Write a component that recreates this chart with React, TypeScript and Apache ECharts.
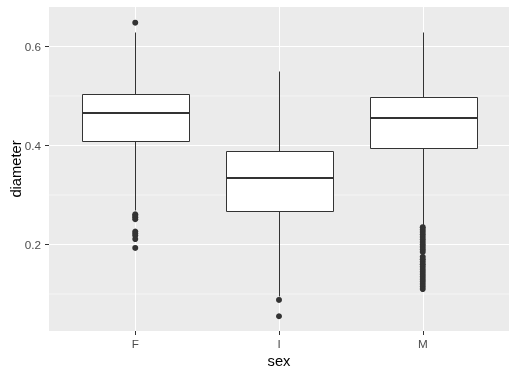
import React, { useEffect, useRef } from "react";
import * as echarts from "echarts";

const categories = ["F", "I", "M"];
const boxMin = [0.269, 0.095, 0.238];
const boxQ1 = [0.409, 0.268, 0.394];
const boxMedian = [0.465, 0.334, 0.455];
const boxQ3 = [0.504, 0.389, 0.498];
const boxMax = [0.63, 0.55, 0.63];
const outliersF = [0.648, 0.261, 0.258, 0.255, 0.251, 0.226, 0.222, 0.218, 0.211, 0.193];
const outliersI = [0.088, 0.055];
const outliersM = [
  0.235, 0.23, 0.225, 0.22, 0.215, 0.21, 0.205, 0.2, 0.195, 0.19, 0.185,
  0.175, 0.17, 0.165, 0.16, 0.155, 0.15, 0.145, 0.14, 0.135, 0.13,
  0.125, 0.12, 0.115, 0.11,
];
const yMajorTicks = [0.2, 0.4, 0.6];
const yMinorTicks = [0.1, 0.3, 0.5];
const yMin = 0.02525;
const yMax = 0.67975;

export default function App() {
  const ref = useRef<HTMLDivElement>(null);
  useEffect(() => {
    document.body.style.margin = "0";
    const chart = echarts.init(ref.current!, null, { renderer: "svg" });
    const gridData: any[] = [
      ...yMinorTicks.map((v) => ["h", v, 0.5]),
      ...yMajorTicks.map((v) => ["h", v, 1]),
      ...categories.map((_, i) => ["v", i + 1, 1]),
    ];
    const boxData = categories.map((_, i) => [
      i + 1,
      boxMin[i],
      boxQ1[i],
      boxMedian[i],
      boxQ3[i],
      boxMax[i],
    ]);
    const outlierData: number[][] = [];
    [outliersF, outliersI, outliersM].forEach((arr, i) =>
      arr.forEach((v) => outlierData.push([i + 1, v]))
    );
    const crisp = (v: number) => Math.round(v) + 0.5;
    chart.setOption({
      animation: false,
      grid: {
        left: 49,
        right: 8,
        top: 7,
        bottom: 46,
        show: true,
        containLabel: false,
        outerBoundsMode: "none",
        backgroundColor: "#EBEBEB",
        borderWidth: 0,
      },
      xAxis: {
        type: "value",
        min: 0.4,
        max: 3.6,
        name: "sex",
        nameLocation: "middle",
        nameGap: 22,
        nameMoveOverlap: false,
        nameTextStyle: { color: "#000", fontSize: 14.7, fontFamily: "Liberation Sans" },
        axisLine: { show: false },
        splitLine: { show: false },
        axisTick: {
          show: true,
          customValues: [1, 2, 3],
          length: 4,
          lineStyle: { color: "#333333", width: 1 },
        },
        axisLabel: {
          customValues: [1, 2, 3],
          formatter: (v: number) => categories[Math.round(v) - 1] ?? "",
          color: "#4D4D4D",
          fontSize: 11.7,
          fontFamily: "Liberation Sans",
          margin: 6,
        },
      },
      yAxis: {
        type: "value",
        min: yMin,
        max: yMax,
        name: "diameter",
        nameLocation: "middle",
        nameGap: 26,
        nameMoveOverlap: false,
        nameTextStyle: { color: "#000", fontSize: 14.7, fontFamily: "Liberation Sans" },
        axisLine: { show: false },
        splitLine: { show: false },
        axisTick: {
          show: true,
          customValues: yMajorTicks,
          length: 4,
          lineStyle: { color: "#333333", width: 1 },
        },
        axisLabel: {
          customValues: yMajorTicks,
          formatter: (v: number) => v.toFixed(1),
          color: "#4D4D4D",
          fontSize: 11.7,
          fontFamily: "Liberation Sans",
          margin: 8,
        },
      },
      series: [
        {
          type: "custom",
          silent: true,
          data: gridData,
          z: 1,
          renderItem: (params: any, api: any) => {
            const cs = params.coordSys;
            const kind = gridData[params.dataIndex][0];
            const v = api.value(1);
            const w = api.value(2);
            if (kind === "h") {
              const y = api.coord([1, v])[1];
              const yy = w >= 1 ? crisp(y) : y;
              return {
                type: "line",
                shape: { x1: cs.x, y1: yy, x2: cs.x + cs.width, y2: yy },
                style: { stroke: "#FFFFFF", lineWidth: w },
              };
            }
            const x = crisp(api.coord([v, 0.3])[0]);
            return {
              type: "line",
              shape: { x1: x, y1: cs.y, x2: x, y2: cs.y + cs.height },
              style: { stroke: "#FFFFFF", lineWidth: w },
            };
          },
          encode: { x: 1, y: 1 },
        },
        {
          type: "custom",
          data: boxData,
          z: 2,
          encode: { x: 0, y: [1, 2, 3, 4, 5] },
          renderItem: (params: any, api: any) => {
            const x = api.value(0);
            const cx = crisp(api.coord([x, 0.3])[0]);
            const half = api.size([0.75, 0])[0] / 2;
            const pMin = crisp(api.coord([x, api.value(1)])[1]);
            const pQ1 = crisp(api.coord([x, api.value(2)])[1]);
            const pMed = Math.round(api.coord([x, api.value(3)])[1]);
            const pQ3 = crisp(api.coord([x, api.value(4)])[1]);
            const pMax = crisp(api.coord([x, api.value(5)])[1]);
            const left = crisp(cx - half);
            const right = crisp(cx + half);
            const st = { stroke: "#333333", lineWidth: 1 };
            return {
              type: "group",
              children: [
                { type: "line", shape: { x1: cx, y1: pMax, x2: cx, y2: pQ3 }, style: st },
                { type: "line", shape: { x1: cx, y1: pQ1, x2: cx, y2: pMin }, style: st },
                {
                  type: "rect",
                  shape: { x: left, y: pQ3, width: right - left, height: pQ1 - pQ3 },
                  style: { fill: "#FFFFFF", stroke: "#333333", lineWidth: 1 },
                },
                {
                  type: "line",
                  shape: { x1: left, y1: pMed, x2: right, y2: pMed },
                  style: { stroke: "#333333", lineWidth: 2 },
                },
              ],
            };
          },
        },
        {
          type: "scatter",
          data: outlierData,
          z: 3,
          symbol: "circle",
          symbolSize: 6,
          itemStyle: { color: "#333333", opacity: 1 },
        },
      ],
    });
    return () => chart.dispose();
  }, []);
  return (
    <div
      ref={ref}
      style={{ position: "fixed", left: 0, top: 0, width: 517, height: 377 }}
    />
  );
}
